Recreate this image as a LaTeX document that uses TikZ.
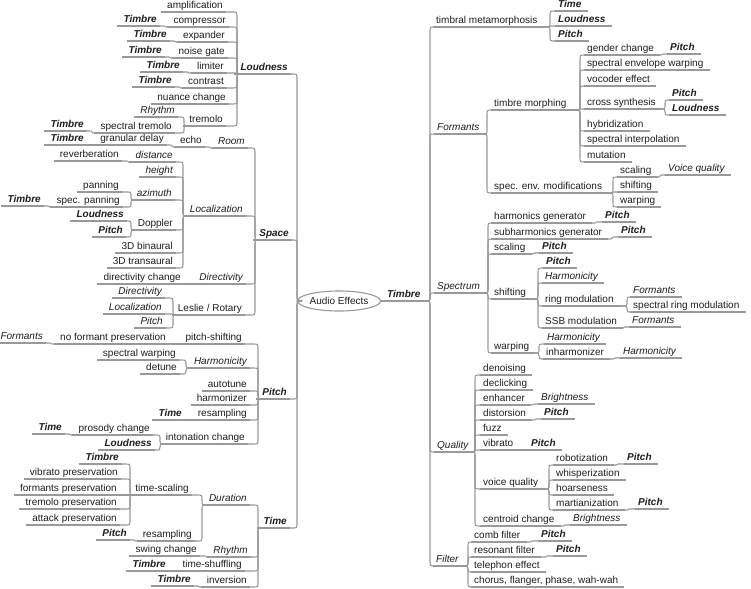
\documentclass[tikz,border=0pt]{standalone}
\usepackage{fontspec}
\setmainfont{Liberation Sans}
\usetikzlibrary{calc,shapes.geometric}
\definecolor{lncol}{HTML}{999999}
\definecolor{txcol}{HTML}{1E1E1E}
\tikzset{
 conn/.style={draw=lncol, line width=1.1pt},
 nd/.style={inner xsep=2pt, inner ysep=1.5pt, text height=7.5pt, text depth=2pt,
   font=\fontsize{10}{12}\selectfont, text=txcol},
 rnode/.style={nd, anchor=south west,
   append after command={([xshift=-1pt]\tikzlastnode.south west) edge[conn] ([xshift=4pt]\tikzlastnode.south east)}},
 lnode/.style={nd, anchor=south east,
   append after command={([xshift=-4pt]\tikzlastnode.south west) edge[conn] ([xshift=1pt]\tikzlastnode.south east)}},
 pl/.style={},
 cat/.style={font=\fontsize{10}{12}\selectfont\itshape},
 att/.style={font=\fontsize{10}{12}\selectfont\bfseries\itshape},
 rootnode/.style={ellipse, draw=lncol, line width=1.1pt, minimum width=73pt, minimum height=20pt,
   inner sep=0pt, font=\fontsize{10}{12}\selectfont, text=txcol},
}
% right-side node: text start x, text centre y
\newcommand\NR[5]{\node[rnode,#4] (#1) at ({#2-2},{#3+7}) {#5};}
% left-side node: text end x, text centre y
\newcommand\NL[5]{\node[lnode,#4] (#1) at ({#2+2},{#3+7}) {#5};}
% connectors: parent anchor, child anchor, x of vertical
\newcommand\CRa[3]{\draw[conn] let \p1=(#1), \p2=(#2), \n1={#3pt},
  \n2={max(-5pt,min(5pt,(\y2-\y1)/2))} in
  (\p1) -- ({\n1-5pt},\y1) .. controls (\n1,\y1) .. (\n1,{\y1+\n2}) -- (\n1,{\y2-\n2})
  .. controls (\n1,\y2) .. ({\n1+5pt},\y2) -- (\p2);}
\newcommand\CLa[3]{\draw[conn] let \p1=(#1), \p2=(#2), \n1={#3pt},
  \n2={max(-5pt,min(5pt,(\y2-\y1)/2))} in
  (\p1) -- ({\n1+5pt},\y1) .. controls (\n1,\y1) .. (\n1,{\y1+\n2}) -- (\n1,{\y2-\n2})
  .. controls (\n1,\y2) .. ({\n1-5pt},\y2) -- (\p2);}
\newcommand\CR[3]{\foreach \cc in {#2} {\CRa{#1.south east}{\cc.south west}{#3}}}
\newcommand\CL[3]{\foreach \cc in {#2} {\CLa{#1.south west}{\cc.south east}{#3}}}
\begin{document}
\begin{tikzpicture}[x=1pt,y=-1pt]
\fill[white] (0,0) rectangle (751,588);
\useasboundingbox (0,0) rectangle (751,588);
\node[rootnode] (root) at (339,301) {Audio Effects};
% ---------------- right side ----------------
\NR{Timbre}{387}{294}{att}{Timbre}
\NR{tm}{436}{20}{pl}{timbral metamorphosis}
\NR{tmT}{558}{4}{att}{Time}
\NR{tmL}{558}{19}{att}{Loudness}
\NR{tmP}{558}{34}{att}{Pitch}
\NR{For}{437}{127}{cat}{Formants}
\NR{tmo}{494}{103}{pl}{timbre morphing}
\NR{gc}{587}{48}{pl}{gender change}
\NR{gcP}{670}{47}{att}{Pitch}
\NR{sew}{587}{63}{pl}{spectral envelope warping}
\NR{voc}{587}{79}{pl}{vocoder effect}
\NR{cs}{587}{102}{pl}{cross synthesis}
\NR{csP}{672}{93}{att}{Pitch}
\NR{csL}{672}{108}{att}{Loudness}
\NR{hyb}{587}{124}{pl}{hybridization}
\NR{si}{587}{139}{pl}{spectral interpolation}
\NR{mut}{587}{155}{pl}{mutation}
\NR{sem}{494}{186}{pl}{spec. env. modifications}
\NR{scA}{620}{170}{pl}{scaling}
\NR{vqA}{668}{168}{cat}{Voice quality}
\NR{shA}{620}{185}{pl}{shifting}
\NR{waA}{620}{200}{pl}{warping}
\NR{Spe}{437}{286}{cat}{Spectrum}
\NR{hg}{494}{216}{pl}{harmonics generator}
\NR{hgP}{605}{215}{att}{Pitch}
\NR{shg}{494}{232}{pl}{subharmonics generator}
\NR{shgP}{621}{230}{att}{Pitch}
\NR{scB}{494}{247}{pl}{scaling}
\NR{scBP}{542}{246}{att}{Pitch}
\NR{shB}{494}{292}{pl}{shifting}
\NR{shBP}{546}{261}{att}{Pitch}
\NR{shBH}{545}{276}{cat}{Harmonicity}
\NR{rm}{545}{299}{pl}{ring modulation}
\NR{rmF}{633}{290}{cat}{Formants}
\NR{srm}{633}{305}{pl}{spectral ring modulation}
\NR{ssb}{545}{321}{pl}{SSB modulation}
\NR{ssbF}{632}{320}{cat}{Formants}
\NR{waB}{494}{346}{pl}{warping}
\NR{waBH}{547}{337}{cat}{Harmonicity}
\NR{inh}{546}{352}{pl}{inharmonizer}
\NR{inhH}{623}{351}{cat}{Harmonicity}
\NR{Qua}{437}{445}{cat}{Quality}
\NR{den}{483}{368}{pl}{denoising}
\NR{dec}{483}{383}{pl}{declicking}
\NR{enh}{483}{398}{pl}{enhancer}
\NR{enhB}{541}{397}{cat}{Brightness}
\NR{dis}{483}{413}{pl}{distorsion}
\NR{disP}{544}{412}{att}{Pitch}
\NR{fuz}{483}{428}{pl}{fuzz}
\NR{vib}{483}{443}{pl}{vibrato}
\NR{vibP}{531}{443}{att}{Pitch}
\NR{vqu}{483}{482}{pl}{voice quality}
\NR{rob}{556}{458}{pl}{robotization}
\NR{robP}{627}{457}{att}{Pitch}
\NR{whi}{556}{473}{pl}{whisperization}
\NR{hoa}{556}{488}{pl}{hoarseness}
\NR{mar}{556}{503}{pl}{martianization}
\NR{marP}{638}{502}{att}{Pitch}
\NR{cen}{483}{519}{pl}{centroid change}
\NR{cenB}{573}{518}{cat}{Brightness}
\NR{Fil}{436}{559}{cat}{Filter}
\NR{cf}{474}{535}{pl}{comb filter}
\NR{cfP}{541}{534}{att}{Pitch}
\NR{rf}{474}{550}{pl}{resonant filter}
\NR{rfP}{556}{549}{att}{Pitch}
\NR{tel}{474}{565}{pl}{telephon effect}
\NR{cho}{474}{580}{pl}{chorus, flanger, phase, wah-wah}
% ---------------- left side ----------------
\NL{Lou}{288}{67}{att}{Loudness}
\NL{amp}{223}{5}{pl}{amplification}
\NL{com}{226}{20}{pl}{compressor}
\NL{comT}{157}{19}{att}{Timbre}
\NL{exp}{225}{35}{pl}{expander}
\NL{expT}{167}{34}{att}{Timbre}
\NL{ng}{225}{51}{pl}{noise gate}
\NL{ngT}{162}{50}{att}{Timbre}
\NL{lim}{224}{66}{pl}{limiter}
\NL{limT}{180}{65}{att}{Timbre}
\NL{con}{224}{81}{pl}{contrast}
\NL{conT}{172}{80}{att}{Timbre}
\NL{nc}{226}{97}{pl}{nuance change}
\NL{tre}{223}{119}{pl}{tremolo}
\NL{treR}{175}{110}{cat}{Rhythm}
\NL{st}{172}{126}{pl}{spectral tremolo}
\NL{stT}{84}{124}{att}{Timbre}
\NL{Spa}{289}{233}{att}{Space}
\NL{Roo}{245}{141}{cat}{Room}
\NL{ech}{202}{140}{pl}{echo}
\NL{gd}{164}{138}{pl}{granular delay}
\NL{gdT}{84}{138}{att}{Timbre}
\NL{Loc}{243}{209}{cat}{Localization}
\NL{dst}{173}{155}{cat}{distance}
\NL{rev}{119}{154}{pl}{reverberation}
\NL{hei}{173}{170}{cat}{height}
\NL{azi}{172}{193}{cat}{azimuth}
\NL{pan}{119}{185}{pl}{panning}
\NL{spn}{120}{200}{pl}{spec. panning}
\NL{spnT}{41}{199}{att}{Timbre}
\NL{dop}{173}{223}{pl}{Doppler}
\NL{dopL}{124}{214}{att}{Loudness}
\NL{dopP}{123}{230}{att}{Pitch}
\NL{bin}{173}{246}{pl}{3D binaural}
\NL{tra}{173}{261}{pl}{3D transaural}
\NL{Dir}{243}{277}{cat}{Directivity}
\NL{dc}{181}{277}{pl}{directivity change}
\NL{les}{242}{308}{pl}{Leslie / Rotary}
\NL{lesD}{162}{291}{cat}{Directivity}
\NL{lesL}{162}{307}{cat}{Localization}
\NL{lesP}{163}{321}{cat}{Pitch}
\NL{Pit}{287}{392}{att}{Pitch}
\NL{ps}{242}{337}{pl}{pitch-shifting}
\NL{nfp}{166}{337}{pl}{no formant preservation}
\NL{nfpF}{43}{336}{cat}{Formants}
\NL{Har}{247}{361}{cat}{Harmonicity}
\NL{sw}{176}{353}{pl}{spectral warping}
\NL{det}{177}{367}{pl}{detune}
\NL{aut}{247}{384}{pl}{autotune}
\NL{hz}{247}{398}{pl}{harmonizer}
\NL{resA}{247}{413}{pl}{resampling}
\NL{resAT}{182}{413}{att}{Time}
\NL{ic}{245}{437}{pl}{intonation change}
\NL{pc}{150}{428}{pl}{prosody change}
\NL{pcT}{62}{427}{att}{Time}
\NL{icL}{152}{443}{att}{Loudness}
\NL{Tim}{287}{521}{att}{Time}
\NL{Dur}{247}{498}{cat}{Duration}
\NL{ts}{189}{488}{pl}{time-scaling}
\NL{tsT}{119}{457}{att}{Timbre}
\NL{vp}{118}{472}{pl}{vibrato preservation}
\NL{fp}{117}{488}{pl}{formants preservation}
\NL{tp}{117}{502}{pl}{tremolo preservation}
\NL{ap}{117}{518}{pl}{attack preservation}
\NL{resB}{192}{534}{pl}{resampling}
\NL{resBP}{127}{533}{att}{Pitch}
\NL{Rhy}{248}{550}{cat}{Rhythm}
\NL{swc}{197}{549}{pl}{swing change}
\NL{tsh}{242}{564}{pl}{time-shuffling}
\NL{tshT}{166}{564}{att}{Timbre}
\NL{inv}{247}{580}{pl}{inversion}
\NL{invT}{191}{579}{att}{Timbre}
% ---------------- connectors right ----------------
\draw[conn] (root.east) -- (Timbre.south west);
\CR{Timbre}{tm,For,Spe,Qua,Fil}{430}
\CR{tm}{tmT,tmL,tmP}{550}
\CR{For}{tmo,sem}{487}
\CR{tmo}{gc,sew,voc,cs,hyb,si,mut}{580}
\CR{gc}{gcP}{662}
\CR{cs}{csP,csL}{665}
\CR{sem}{scA,shA,waA}{613}
\CR{scA}{vqA}{660}
\CR{Spe}{hg,shg,scB,shB,waB}{488}
\CR{hg}{hgP}{596}
\CR{shg}{shgP}{612}
\CR{scB}{scBP}{533}
\CR{shB}{shBP,shBH,rm,ssb}{538}
\CR{rm}{rmF,srm}{627}
\CR{ssb}{ssbF}{624}
\CR{waB}{waBH,inh}{539}
\CR{inh}{inhH}{614}
\CR{Qua}{den,dec,enh,dis,fuz,vib,vqu,cen}{475}
\CR{enh}{enhB}{533}
\CR{dis}{disP}{535}
\CR{vib}{vibP}{522}
\CR{vqu}{rob,whi,hoa,mar}{549}
\CR{rob}{robP}{617}
\CR{mar}{marP}{628}
\CR{cen}{cenB}{564}
\CR{Fil}{cf,rf,tel,cho}{468}
\CR{cf}{cfP}{531}
\CR{rf}{rfP}{546}
% ---------------- connectors left ----------------
\foreach \cc in {Lou,Spa,Pit,Tim} {\CLa{root.west}{\cc.south east}{297}}
\CL{Lou}{amp,com,exp,ng,lim,con,nc,tre}{237}
\CL{com}{comT}{165}
\CL{exp}{expT}{175}
\CL{ng}{ngT}{170}
\CL{lim}{limT}{188}
\CL{con}{conT}{180}
\CL{tre}{treR,st}{184}
\CL{st}{stT}{92}
\CL{Spa}{Roo,Loc,Dir,les}{255}
\CL{Roo}{ech}{210}
\CL{ech}{gd}{172}
\CL{gd}{gdT}{92}
\CL{Loc}{dst,hei,azi,dop,bin,tra}{183}
\CL{dst}{rev}{128}
\CL{azi}{pan,spn}{131}
\CL{spn}{spnT}{49}
\CL{dop}{dopL,dopP}{131}
\CL{Dir}{dc}{190}
\CL{les}{lesD,lesL,lesP}{173}
\CL{Pit}{ps,Har,aut,hz,resA,ic}{258}
\CL{ps}{nfp}{176}
\CL{nfp}{nfpF}{51}
\CL{Har}{sw,det}{186}
\CL{resA}{resAT}{190}
\CL{ic}{pc,icL}{160}
\CL{pc}{pcT}{70}
\CL{Tim}{Dur,Rhy,tsh,inv}{258}
\CL{Dur}{ts,resB}{202}
\CL{ts}{tsT,vp,fp,tp,ap}{130}
\CL{resB}{resBP}{135}
\CL{Rhy}{swc}{206}
\CL{tsh}{tshT}{174}
\CL{inv}{invT}{199}
\end{tikzpicture}
\end{document}
